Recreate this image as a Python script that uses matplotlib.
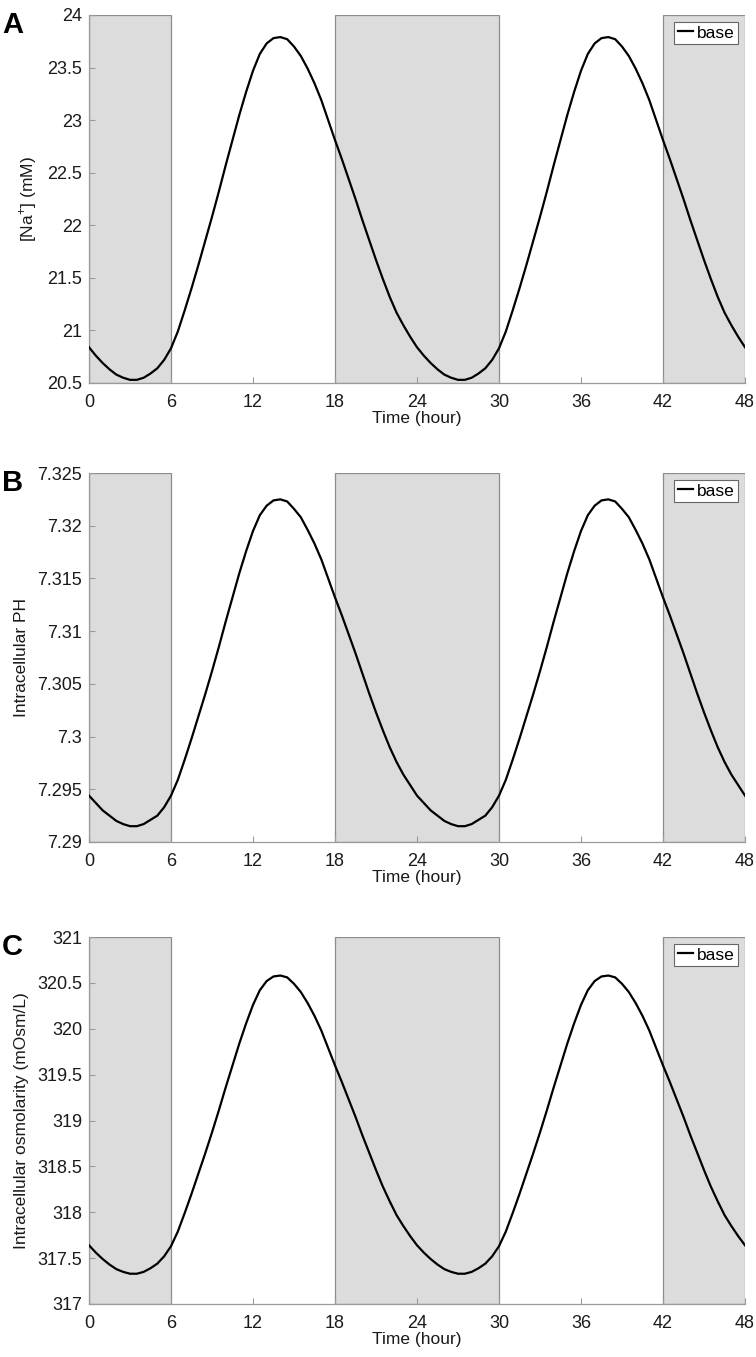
import numpy as np
import matplotlib
matplotlib.use("Agg")
import matplotlib.pyplot as plt
from matplotlib.ticker import FuncFormatter

plt.rcParams['font.family'] = ['Liberation Sans', 'DejaVu Sans']
plt.rcParams['mathtext.fontset'] = 'custom'
plt.rcParams['mathtext.rm'] = 'Liberation Sans'

# time axis (hour), one reading every half hour
hours = np.arange(0, 48.5, 0.5)

# [Na+] (mM)
sodium = [20.84, 20.76, 20.69, 20.63, 20.58, 20.55, 20.53, 20.53, 20.55, 20.59,
          20.64, 20.72, 20.83, 20.99, 21.19, 21.40, 21.62, 21.85, 22.08, 22.32,
          22.57, 22.81, 23.05, 23.27, 23.47, 23.63, 23.73, 23.78, 23.79, 23.77,
          23.70, 23.61, 23.49, 23.35, 23.19, 23.00, 22.81, 22.63, 22.44, 22.25,
          22.05, 21.86, 21.67, 21.49, 21.32, 21.17, 21.05, 20.94,
          20.84, 20.76, 20.69, 20.63, 20.58, 20.55, 20.53, 20.53, 20.55, 20.59,
          20.64, 20.72, 20.83, 20.99, 21.19, 21.40, 21.62, 21.85, 22.08, 22.32,
          22.57, 22.81, 23.05, 23.27, 23.47, 23.63, 23.73, 23.78, 23.79, 23.77,
          23.70, 23.61, 23.49, 23.35, 23.19, 23.00, 22.81, 22.63, 22.44, 22.25,
          22.05, 21.86, 21.67, 21.49, 21.32, 21.17, 21.05, 20.94, 20.84]

# intracellular pH
ph = [7.2944, 7.2937, 7.2930, 7.2925, 7.2920, 7.2917, 7.2915, 7.2915, 7.2917, 7.2921,
      7.2925, 7.2933, 7.2944, 7.2959, 7.2978, 7.2998, 7.3019, 7.3040, 7.3062, 7.3085,
      7.3109, 7.3132, 7.3155, 7.3176, 7.3195, 7.3210, 7.3219, 7.3224, 7.3225, 7.3223,
      7.3216, 7.3208, 7.3196, 7.3183, 7.3168, 7.3150, 7.3132, 7.3115, 7.3097, 7.3079,
      7.3060, 7.3041, 7.3023, 7.3006, 7.2990, 7.2976, 7.2964, 7.2954,
      7.2944, 7.2937, 7.2930, 7.2925, 7.2920, 7.2917, 7.2915, 7.2915, 7.2917, 7.2921,
      7.2925, 7.2933, 7.2944, 7.2959, 7.2978, 7.2998, 7.3019, 7.3040, 7.3062, 7.3085,
      7.3109, 7.3132, 7.3155, 7.3176, 7.3195, 7.3210, 7.3219, 7.3224, 7.3225, 7.3223,
      7.3216, 7.3208, 7.3196, 7.3183, 7.3168, 7.3150, 7.3132, 7.3115, 7.3097, 7.3079,
      7.3060, 7.3041, 7.3023, 7.3006, 7.2990, 7.2976, 7.2964, 7.2954, 7.2944]

# intracellular osmolarity (mOsm/L)
osmo = [317.64, 317.56, 317.49, 317.43, 317.38, 317.35, 317.33, 317.33, 317.35, 317.39,
        317.44, 317.52, 317.63, 317.79, 317.99, 318.20, 318.42, 318.64, 318.87, 319.11,
        319.36, 319.60, 319.84, 320.06, 320.26, 320.42, 320.52, 320.57, 320.58, 320.56,
        320.49, 320.40, 320.28, 320.14, 319.98, 319.79, 319.60, 319.42, 319.23, 319.04,
        318.84, 318.65, 318.46, 318.28, 318.12, 317.97, 317.85, 317.74,
        317.64, 317.56, 317.49, 317.43, 317.38, 317.35, 317.33, 317.33, 317.35, 317.39,
        317.44, 317.52, 317.63, 317.79, 317.99, 318.20, 318.42, 318.64, 318.87, 319.11,
        319.36, 319.60, 319.84, 320.06, 320.26, 320.42, 320.52, 320.57, 320.58, 320.56,
        320.49, 320.40, 320.28, 320.14, 319.98, 319.79, 319.60, 319.42, 319.23, 319.04,
        318.84, 318.65, 318.46, 318.28, 318.12, 317.97, 317.85, 317.74, 317.64]

dark_periods = [(0, 6), (18, 30), (42, 48)]
xticks = [0, 6, 12, 18, 24, 30, 36, 42, 48]

panels = [
    ("A", sodium, r"[Na$^{+}$] (mM)", (20.5, 24), np.arange(20.5, 24.01, 0.5)),
    ("B", ph, "Intracellular PH", (7.29, 7.325), np.arange(7.29, 7.3251, 0.005)),
    ("C", osmo, "Intracellular osmolarity (mOsm/L)", (317, 321), np.arange(317, 321.01, 0.5)),
]

W, H = 756, 1357
fig = plt.figure(figsize=(W / 100, H / 100), dpi=100)

tops = [15, 473, 937]
bottoms = [383, 842, 1304]
left, right = 89, 745

fmt = FuncFormatter(lambda v, p: "%g" % round(v, 4))

for (letter, vals, ylab, ylim, yt), top, bot in zip(panels, tops, bottoms):
    ax = fig.add_axes([left / W, 1 - bot / H, (right - left) / W, (bot - top) / H])
    for a, b in dark_periods:
        ax.axvspan(a, b, facecolor="#dcdcdc", edgecolor="#8c8c8c", linewidth=0.9, zorder=0)
    ax.plot(hours, vals, color="black", linewidth=1.6, label="base", zorder=3)
    ax.set_xlim(0, 48)
    ax.set_ylim(*ylim)
    ax.set_xticks(xticks)
    ax.set_yticks(yt)
    ax.yaxis.set_major_formatter(fmt)
    for s in ["top", "right"]:
        ax.spines[s].set_visible(False)
    for s in ["left", "bottom"]:
        ax.spines[s].set_color("#9a9a9a")
        ax.spines[s].set_linewidth(0.9)
    ax.tick_params(direction="in", length=4, width=0.8, color="#9a9a9a",
                   labelsize=13, labelcolor="#1a1a1a")
    ax.tick_params(axis="x", pad=8)
    ax.tick_params(axis="y", pad=5)
    ax.set_xlabel("Time (hour)", fontsize=12.5, labelpad=0, color="#1a1a1a")
    ax.set_ylabel(ylab, fontsize=12.5, labelpad=6, color="#1a1a1a")
    leg = ax.legend(loc="upper right", fontsize=12.5, handlelength=0.9, handletextpad=0.2,
                    borderpad=0.2, borderaxespad=0.4, fancybox=False, framealpha=1)
    leg.get_frame().set_edgecolor("#666666")
    leg.get_frame().set_linewidth(0.8)
    fig.text(2 / W, 1 - (top + 10) / H, letter, fontsize=21, fontweight="bold",
             ha="left", va="center")

fig.savefig("out.png", dpi=100)
